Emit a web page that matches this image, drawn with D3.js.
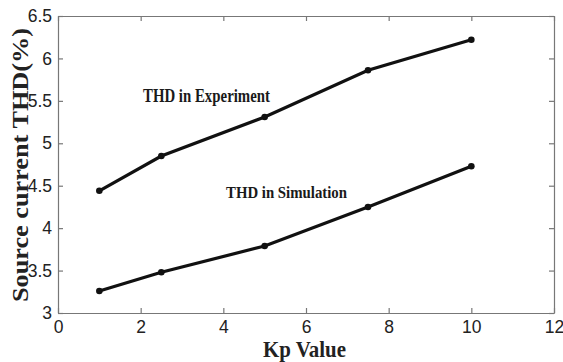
<!DOCTYPE html>
<html>
<head>
<meta charset="utf-8">
<script src="https://cdn.jsdelivr.net/npm/d3@7"></script>
<style>
  body { margin: 0; background: #fff; }
  .tick text { font-family: "Liberation Sans", Arial, sans-serif; font-size: 17.5px; fill: #222; }
</style>
</head>
<body>
<div id="chart"></div>
<script>
  const width = 563, height = 362;
  const margin = {top: 16, right: 9, bottom: 49, left: 58};

  // data
  const kp = [1, 2.5, 5, 7.5, 10];
  const thdExperiment = [4.44, 4.85, 5.31, 5.86, 6.22];
  const thdSimulation = [3.26, 3.48, 3.79, 4.25, 4.73];
  const xTicks = [0, 2, 4, 6, 8, 10, 12];
  const yTicks = [3, 3.5, 4, 4.5, 5, 5.5, 6, 6.5];

  const svg = d3.select("#chart").append("svg")
    .attr("width", width)
    .attr("height", height);

  const x = d3.scaleLinear().domain([0, 12]).range([margin.left, width - margin.right]);
  const y = d3.scaleLinear().domain([3, 6.5]).range([height - margin.bottom, margin.top]);

  const fmt = function(d) { return String(d); };

  // axes, matlab style with inward ticks
  const axisColor = "#777";
  svg.append("g")
    .attr("transform", "translate(0," + (height - margin.bottom) + ")")
    .call(d3.axisBottom(x).tickValues(xTicks).tickFormat(fmt).tickSizeInner(-5).tickSizeOuter(0).tickPadding(8));
  svg.append("g")
    .attr("transform", "translate(0," + margin.top + ")")
    .call(d3.axisTop(x).tickValues(xTicks).tickSizeInner(-5).tickSizeOuter(0).tickFormat(""));
  svg.append("g")
    .attr("transform", "translate(" + margin.left + ",0)")
    .call(d3.axisLeft(y).tickValues(yTicks).tickFormat(fmt).tickSizeInner(-5).tickSizeOuter(0).tickPadding(6));
  svg.append("g")
    .attr("transform", "translate(" + (width - margin.right) + ",0)")
    .call(d3.axisRight(y).tickValues(yTicks).tickSizeInner(-5).tickSizeOuter(0).tickFormat(""));

  svg.selectAll(".domain, .tick line").attr("stroke", axisColor).attr("stroke-width", 1.2);

  const line = d3.line()
    .x(function(d) { return x(d[0]); })
    .y(function(d) { return y(d[1]); });

  const series = [thdExperiment, thdSimulation];
  series.forEach(function(vals) {
    const pts = kp.map(function(k, i) { return [k, vals[i]]; });
    svg.append("path")
      .datum(pts)
      .attr("d", line)
      .attr("fill", "none")
      .attr("stroke", "#111")
      .attr("stroke-width", 3.2);
    svg.append("g").selectAll("circle")
      .data(pts)
      .enter().append("circle")
      .attr("cx", function(d) { return x(d[0]); })
      .attr("cy", function(d) { return y(d[1]); })
      .attr("r", 3.3)
      .attr("fill", "#111");
  });

  const serif = "Liberation Serif, Times New Roman, serif";

  // annotations
  svg.append("text")
    .attr("x", 143).attr("y", 102)
    .attr("font-family", serif)
    .attr("font-weight", "bold").attr("font-size", 18)
    .attr("textLength", 127).attr("lengthAdjust", "spacingAndGlyphs")
    .attr("fill", "#1a1a1a")
    .text("THD in Experiment");
  svg.append("text")
    .attr("x", 226).attr("y", 198)
    .attr("font-family", serif)
    .attr("font-weight", "bold").attr("font-size", 17)
    .attr("textLength", 121).attr("lengthAdjust", "spacingAndGlyphs")
    .attr("fill", "#1a1a1a")
    .text("THD in Simulation");

  // axis titles
  svg.append("text")
    .attr("x", 263).attr("y", 357)
    .attr("font-family", serif)
    .attr("font-weight", "bold").attr("font-size", 24)
    .attr("textLength", 83).attr("lengthAdjust", "spacingAndGlyphs")
    .attr("fill", "#222")
    .text("Kp Value");
  svg.append("text")
    .attr("transform", "translate(28,302) rotate(-90)")
    .attr("font-family", serif)
    .attr("font-weight", "bold").attr("font-size", 23)
    .attr("textLength", 274).attr("lengthAdjust", "spacingAndGlyphs")
    .attr("fill", "#222")
    .text("Source current THD(%)");
</script>
</body>
</html>
